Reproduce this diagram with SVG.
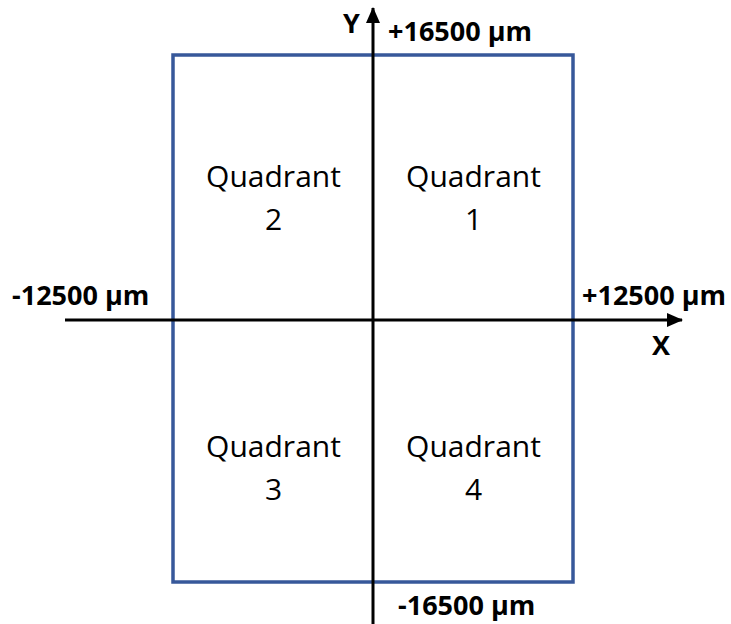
<svg xmlns="http://www.w3.org/2000/svg" width="731" height="624" viewBox="0 0 731 624">
<style>
.bold{font-family:"Open Sans","Liberation Sans",sans-serif;font-weight:bold;font-size:27px;fill:#000}
.q{font-family:"Open Sans","Liberation Sans",sans-serif;font-size:30px;fill:#000;text-anchor:middle}
.axis{stroke:#000;stroke-width:3;fill:none}
</style>
<defs>
<marker id="arr" markerUnits="userSpaceOnUse" markerWidth="16" markerHeight="14" refX="15" refY="7" orient="auto">
<path d="M0,0 L16,7 L0,14 Z" fill="#000"/>
</marker>
</defs>
<rect width="731" height="624" fill="#fff"/>
<g id="frame">
<rect x="173" y="55" width="400" height="527" fill="none" stroke="#37589A" stroke-width="3.5"/>
</g>
<g id="connectors">
<line class="axis" x1="65" y1="320" x2="682" y2="320" marker-end="url(#arr)"/>
<line class="axis" x1="373" y1="624" x2="373" y2="8" marker-end="url(#arr)"/>
</g>
<g id="labels">
<text class="bold" x="343" y="33" font-size="22">Y</text>
<text class="bold" x="652" y="355" font-size="22">X</text>
<text class="bold" x="388" y="41">+16500 µm</text>
<text class="bold" x="398" y="615">-16500 µm</text>
<text class="bold" x="12" y="305">-12500 µm</text>
<text class="bold" x="582" y="305">+12500 µm</text>
</g>
<g id="quadrant1">
<text class="q" x="473.5" y="187">Quadrant</text>
<text class="q" x="473.5" y="230">1</text>
</g>
<g id="quadrant2">
<text class="q" x="273.5" y="187">Quadrant</text>
<text class="q" x="273.5" y="230">2</text>
</g>
<g id="quadrant3">
<text class="q" x="273.5" y="457">Quadrant</text>
<text class="q" x="273.5" y="500">3</text>
</g>
<g id="quadrant4">
<text class="q" x="473.5" y="457">Quadrant</text>
<text class="q" x="473.5" y="500">4</text>
</g>
</svg>
